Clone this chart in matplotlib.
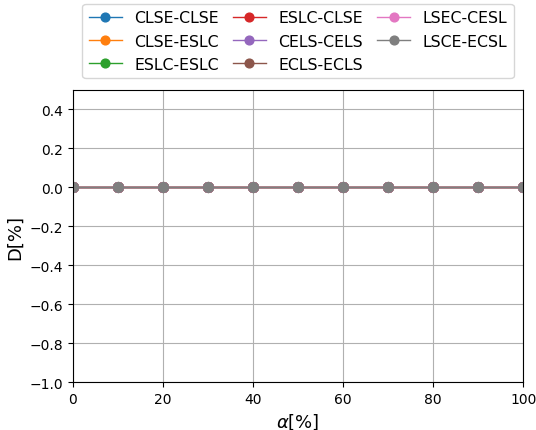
import matplotlib
matplotlib.use("Agg")
import matplotlib.pyplot as plt

alpha = [0, 10, 20, 30, 40, 50, 60, 70, 80, 90, 100]
series_names = ["CLSE-CLSE", "CLSE-ESLC", "ESLC-ESLC", "ESLC-CLSE",
                "CELS-CELS", "ECLS-ECLS", "LSEC-CESL", "LSCE-ECSL"]
series_values = {
    "CLSE-CLSE": [0, 0, 0, 0, 0, 0, 0, 0, 0, 0, 0],
    "CLSE-ESLC": [0, 0, 0, 0, 0, 0, 0, 0, 0, 0, 0],
    "ESLC-ESLC": [0, 0, 0, 0, 0, 0, 0, 0, 0, 0, 0],
    "ESLC-CLSE": [0, 0, 0, 0, 0, 0, 0, 0, 0, 0, 0],
    "CELS-CELS": [0, 0, 0, 0, 0, 0, 0, 0, 0, 0, 0],
    "ECLS-ECLS": [0, 0, 0, 0, 0, 0, 0, 0, 0, 0, 0],
    "LSEC-CESL": [0, 0, 0, 0, 0, 0, 0, 0, 0, 0, 0],
    "LSCE-ECSL": [0, 0, 0, 0, 0, 0, 0, 0, 0, 0, 0],
}

fig = plt.figure(figsize=(5.36, 4.31), dpi=100)
ax = fig.add_axes([0.136, 0.111, 0.840, 0.678])

for name in series_names:
    ax.plot(alpha, series_values[name], marker="o", markersize=7,
            linewidth=1, label=name)

ax.set_xlim(0, 100)
ax.set_ylim(-1.0, 0.5)
ax.set_yticks([-1.0, -0.8, -0.6, -0.4, -0.2, 0.0, 0.2, 0.4])
ax.grid(True)
ax.set_xlabel(r"$\alpha$[%]", fontsize=13)
ax.set_ylabel("D[%]", fontsize=13)

ax.legend(loc="lower center", bbox_to_anchor=(0.5, 1.014), ncol=3,
          fontsize=11.3, columnspacing=0.9, labelspacing=0.52,
          handlelength=2.1, markerscale=0.9)

fig.savefig("out.png", dpi=100)
